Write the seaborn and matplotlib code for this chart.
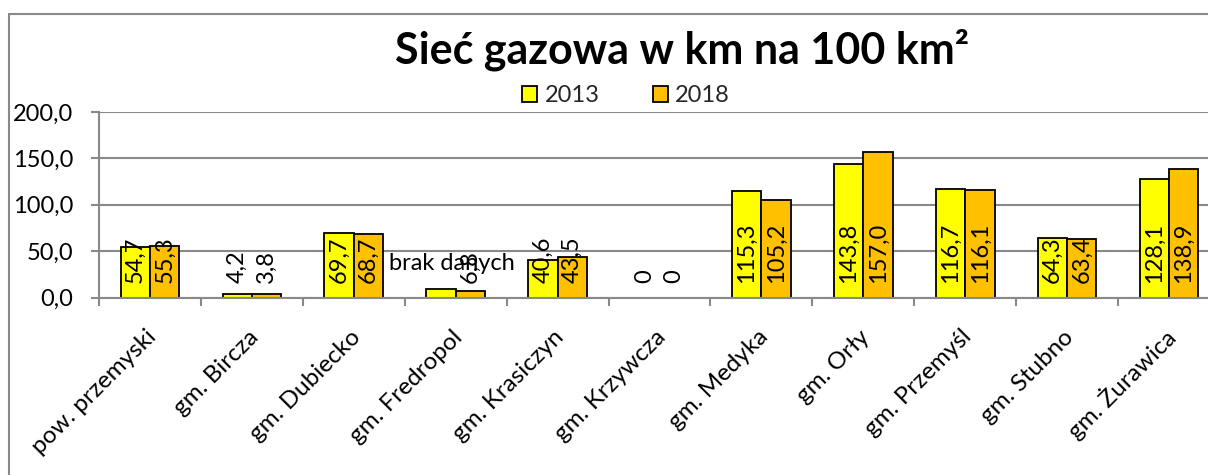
import matplotlib
matplotlib.use("Agg")
import matplotlib.pyplot as plt
import matplotlib.transforms as mtransforms
from matplotlib.patches import Patch
from matplotlib.lines import Line2D
import pandas as pd
import seaborn as sns

# --- data -------------------------------------------------------------
categories = ["pow. przemyski", "gm. Bircza", "gm. Dubiecko", "gm. Fredropol",
              "gm. Krasiczyn", "gm. Krzywcza", "gm. Medyka", "gm. Orły",
              "gm. Przemyśl", "gm. Stubno", "gm. Żurawica"]
years = ["2013", "2018"]
values_2013 = [54.7, 4.2, 69.7, 9.4, 40.6, 0.0, 115.3, 143.8, 116.7, 64.3, 128.1]
values_2018 = [55.3, 3.8, 68.7, 6.8, 43.5, 0.0, 105.2, 157.0, 116.1, 63.4, 138.9]
labels_2013 = ["54,7", "4,2", "69,7", "brak danych", "40,6", "0",
               "115,3", "143,8", "116,7", "64,3", "128,1"]
labels_2018 = ["55,3", "3,8", "68,7", "6,8", "43,5", "0",
               "105,2", "157,0", "116,1", "63,4", "138,9"]
yticks = [0, 50, 100, 150, 200]
ytick_labels = ["0,0", "50,0", "100,0", "150,0", "200,0"]
title = "Sieć gazowa w km na 100 km²"

colors = ["#FFFF00", "#FFC000"]
GRAY = "#898989"

df = pd.DataFrame({
    "gmina": categories * 2,
    "rok": [years[0]] * len(categories) + [years[1]] * len(categories),
    "wartosc": values_2013 + values_2018,
})

# --- figure -----------------------------------------------------------
sns.set_theme(style="white")
plt.rcParams["font.family"] = ["Lato", "DejaVu Sans"]

W, H = 1208, 475
fig = plt.figure(figsize=(W / 100, H / 100), dpi=100)
ax = fig.add_axes([99 / W, (H - 297.5) / H, 1121 / W, 185.5 / H])

sns.barplot(data=df, x="gmina", y="wartosc", hue="rok", palette=colors,
            width=0.575, saturation=1, edgecolor="black", linewidth=1.3,
            legend=False, ax=ax)

for cont in ax.containers:
    for bar in cont:
        if bar.get_height() == 0:
            bar.set_linewidth(0)

# data labels
for cont, labs in zip(ax.containers, [labels_2013, labels_2018]):
    for bar, lab in zip(cont, labs):
        x = bar.get_x() + bar.get_width() / 2
        if lab == "brak danych":
            ax.annotate(lab, (x, 0), xytext=(11 * 0.72, 34.5 * 0.72),
                        textcoords="offset points", ha="center", va="center",
                        fontsize=17, color="black")
        else:
            ax.annotate(lab, (x, 0), xytext=(0, 14.7 * 0.72),
                        textcoords="offset points", ha="center", va="bottom",
                        rotation=90, fontsize=17, color="black")

# axes styling
ax.set_xlim(-0.5, len(categories) - 0.5)
ax.set_ylim(0, 200)
ax.set_xlabel("")
ax.set_ylabel("")
ax.set_yticks(yticks)
ax.set_yticklabels(ytick_labels)
ax.yaxis.grid(True, color=GRAY, linewidth=1.5)
ax.set_axisbelow(True)
for side in ["top", "right"]:
    ax.spines[side].set_visible(False)
for side in ["left", "bottom"]:
    ax.spines[side].set_color(GRAY)
    ax.spines[side].set_linewidth(1.5)

ax.tick_params(axis="y", left=True, length=6, width=1.5, color=GRAY,
               direction="out", pad=12.5, labelsize=17, labelcolor="black")

ax.set_xticks(range(len(categories)))
ax.set_xticks([i - 0.5 for i in range(len(categories) + 1)], minor=True)
ax.set_xticklabels(categories, rotation=45, ha="right", va="center",
                   rotation_mode="anchor", fontsize=17.5, color="black")
ax.tick_params(axis="x", which="major", bottom=True, length=0, pad=26)
ax.tick_params(axis="x", which="minor", bottom=True, length=6, width=1.5,
               color=GRAY, direction="out")
shift = mtransforms.ScaledTranslation(3 / 100, 0, fig.dpi_scale_trans)
for lbl in ax.get_xticklabels():
    lbl.set_transform(lbl.get_transform() + shift)

# title and legend
fig.text(682 / W, 1 - 50 / H, title, ha="center", va="center",
         fontsize=31, fontweight="bold", color="black")
handles = [Patch(facecolor=c, edgecolor="black", linewidth=1.3) for c in colors]
fig.legend(handles=handles, labels=years, loc="center",
           bbox_to_anchor=(626 / W, 1 - 96 / H), ncol=2, frameon=False,
           fontsize=17, handlelength=0.65, handleheight=0.65,
           handletextpad=0.3, columnspacing=2.25)

# outer chart frame
fig.add_artist(Line2D([9 / W, 9 / W], [0, 1 - 14 / H], color=GRAY, linewidth=1.5))
fig.add_artist(Line2D([9 / W, 1], [1 - 14 / H, 1 - 14 / H], color=GRAY, linewidth=1.5))

fig.savefig("out.png", dpi=100)
